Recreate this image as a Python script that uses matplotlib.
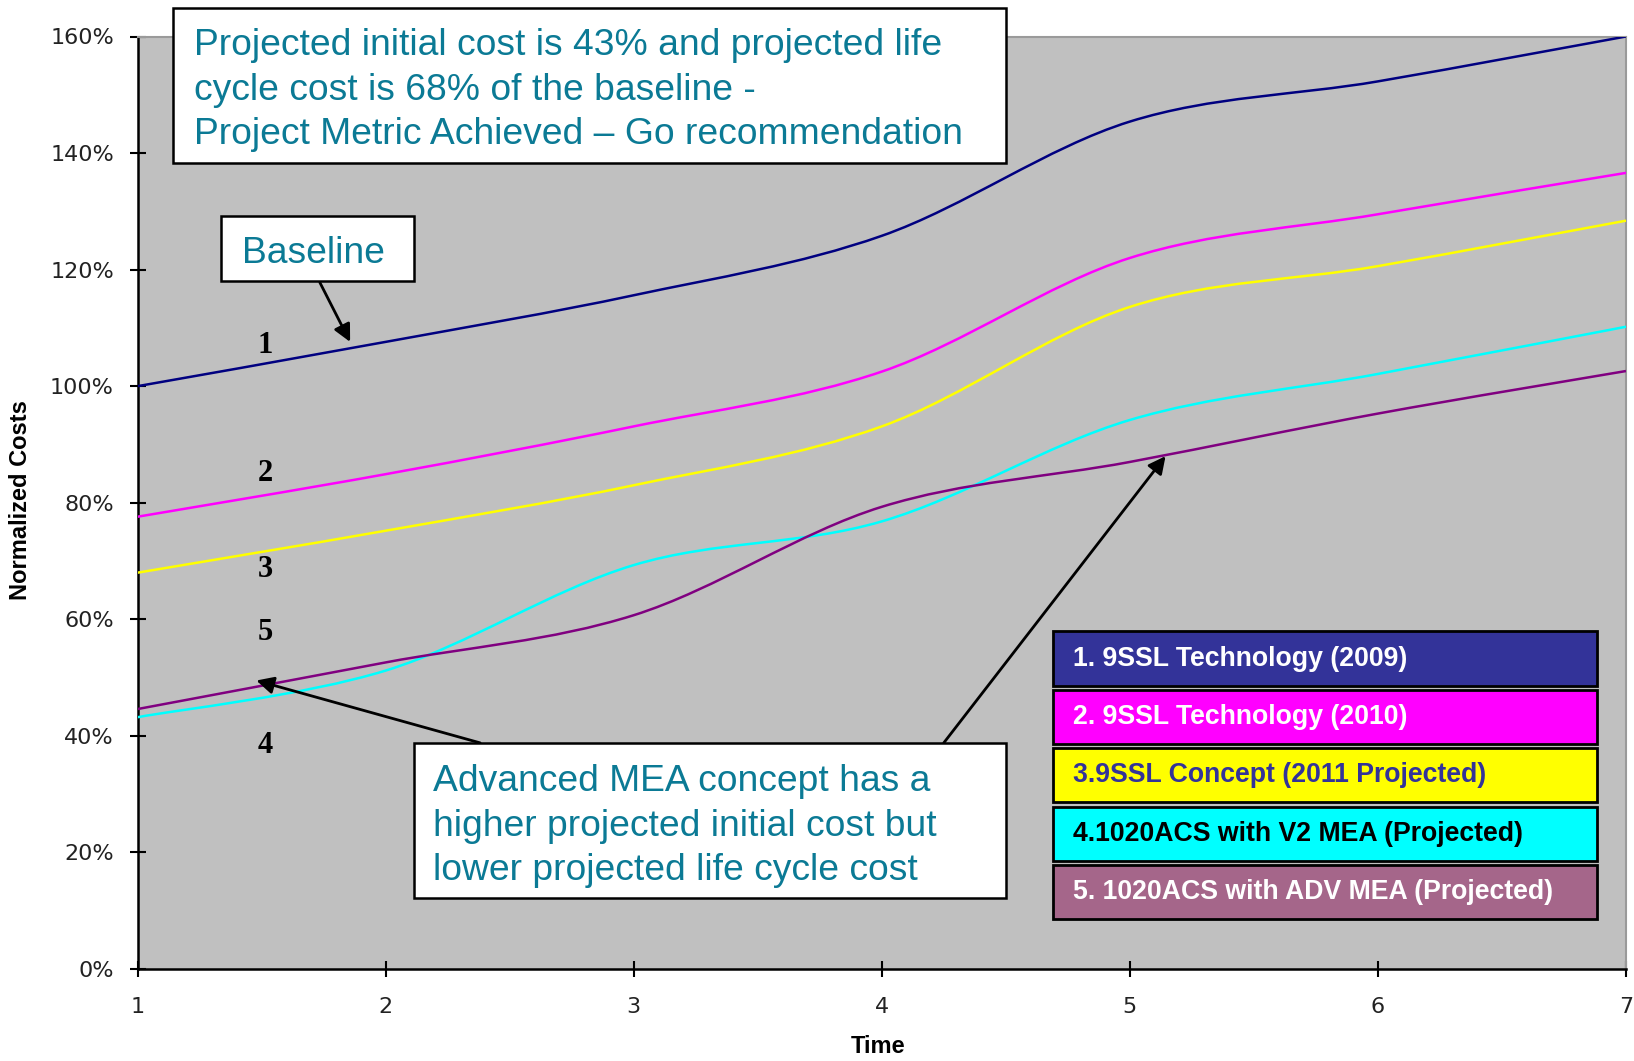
import matplotlib
matplotlib.use('Agg')
import matplotlib.pyplot as plt
from matplotlib.path import Path
from matplotlib.patches import PathPatch, Rectangle
from matplotlib.ticker import FuncFormatter

# Data (normalized cost, % of baseline)
time = [1, 2, 3, 4, 5, 6, 7]
tech_2009 = [100.0, 107.6, 115.6, 125.8, 145.4, 152.3, 160.0]
tech_2010 = [77.6, 84.9, 93.1, 102.5, 122.0, 129.5, 136.6]
concept_2011 = [68.0, 75.2, 83.0, 93.1, 113.6, 120.6, 128.4]
acs_v2_mea = [43.2, 51.2, 69.3, 76.8, 94.2, 102.1, 110.2]
acs_adv_mea = [44.6, 52.6, 60.7, 79.3, 87.0, 95.3, 102.6]

series = [tech_2009, tech_2010, concept_2011, acs_v2_mea, acs_adv_mea]
line_colors = ['#000080', '#FF00FF', '#FFFF00', '#00FFFF', '#800080']
legend_labels = ['1. 9SSL Technology (2009)', '2. 9SSL Technology (2010)',
                 '3.9SSL Concept (2011 Projected)', '4.1020ACS with V2 MEA (Projected)',
                 '5. 1020ACS with ADV MEA (Projected)']
legend_fill = ['#333399', '#FF00FF', '#FFFF00', '#00FFFF', '#A5668A']
legend_text = ['white', 'white', '#333399', 'black', 'white']

number_labels = ['1', '2', '3', '5', '4']
number_pos = [(1.516, 107.0), (1.516, 85.0), (1.516, 68.6), (1.516, 57.7), (1.516, 38.4)]

TEAL = '#0B7A95'
W, H = 1634, 1061


def smooth_path(xs, ys):
    """Excel-style smoothed line: cubic Bezier segments through the points."""
    n = len(xs)
    verts = [(xs[0], ys[0])]
    codes = [Path.MOVETO]
    for i in range(n - 1):
        p = max(i - 1, 0)
        q = min(i + 2, n - 1)
        c1 = (xs[i] + (xs[i + 1] - xs[p]) / 6, ys[i] + (ys[i + 1] - ys[p]) / 6)
        c2 = (xs[i + 1] - (xs[q] - xs[i]) / 6, ys[i + 1] - (ys[q] - ys[i]) / 6)
        verts += [c1, c2, (xs[i + 1], ys[i + 1])]
        codes += [Path.CURVE4] * 3
    return Path(verts, codes)


def fx(x):
    return x / W


def fy(y):
    return 1 - y / H


def fig_box(x0, y0, x1, y1, face='white', lw=1.8):
    fig.add_artist(Rectangle((fx(x0), fy(y1)), fx(x1) - fx(x0), fy(y0) - fy(y1),
                             transform=fig.transFigure, facecolor=face,
                             edgecolor='black', linewidth=lw, zorder=2))


fig = plt.figure(figsize=(W / 100, H / 100), dpi=100)
ax = fig.add_axes([fx(137.5), fy(969), fx(1626) - fx(137.5), fy(36.5) - fy(969)])
ax.set_facecolor('#C0C0C0')

for ys, c in zip(series, line_colors):
    ax.add_patch(PathPatch(smooth_path(time, ys), facecolor='none', edgecolor=c, lw=1.8, zorder=3))

ax.set_xlim(1, 7)
ax.set_ylim(0, 160)
ax.set_xticks(time)
ax.set_yticks(range(0, 161, 20))
ax.yaxis.set_major_formatter(FuncFormatter(lambda v, _: f'{int(v)}%'))
ax.tick_params(direction='inout', length=12, width=1.5, labelsize=16, labelcolor='#222222')
ax.tick_params(axis='y', pad=11)
ax.tick_params(axis='x', pad=14)
for s in ['left', 'bottom']:
    ax.spines[s].set_linewidth(1.8)
for s in ['top', 'right']:
    ax.spines[s].set_color('#9a9a9a')
    ax.spines[s].set_linewidth(1.5)

ax.set_xlabel('Time', fontsize=17, fontweight='bold', family='Liberation Sans')
ax.xaxis.set_label_coords(0.4975, -0.0836)
ax.xaxis.label.set_va('center')
ax.set_ylabel('Normalized Costs', fontsize=17, fontweight='bold', family='Liberation Sans')
ax.yaxis.set_label_coords(-0.0783, 0.503)
ax.yaxis.label.set_va('center')

for lab, (x, y) in zip(number_labels, number_pos):
    ax.text(x, y, lab, fontsize=22, fontweight='bold', family='Liberation Serif',
            ha='center', va='center', zorder=4)

arrow = dict(arrowstyle='-|>', color='black', lw=2, mutation_scale=26, shrinkA=0, shrinkB=0)
ax.annotate('', xy=(1.857, 107.6), xytext=(1.735, 117.8), arrowprops=arrow, zorder=5)
ax.annotate('', xy=(1.479, 49.5), xytext=(2.381, 38.8), arrowprops=arrow, zorder=5)
ax.annotate('', xy=(5.144, 88.0), xytext=(4.250, 38.8), arrowprops=arrow, zorder=5)

# Call-out boxes
fig_box(173, 8.3, 1005.5, 162.5)
top_lines = ['Projected initial cost is 43% and projected life',
             'cycle cost is 68% of the baseline -',
             'Project Metric Achieved \u2013 Go recommendation']
for line, base in zip(top_lines, [55, 99.5, 144]):
    fig.text(fx(194), fy(base), line, fontsize=26.8, color=TEAL, family='Liberation Sans',
             va='baseline', ha='left', zorder=3)

fig_box(221, 215.7, 413.7, 281.3)
fig.text(fx(241.7), fy(262.6), 'Baseline', fontsize=26.8, color=TEAL, family='Liberation Sans',
         va='baseline', ha='left', zorder=3)

fig_box(413.7, 743, 1005.5, 898)
bottom_lines = ['Advanced MEA concept has a', 'higher projected initial cost but',
                'lower projected life cycle cost']
for line, base in zip(bottom_lines, [791, 835.5, 879.5]):
    fig.text(fx(433.5), fy(base), line, fontsize=26.8, color=TEAL, family='Liberation Sans',
             va='baseline', ha='left', zorder=3)

# Legend-style colored boxes
legend_rows = [(631, 686), (690, 744), (748, 802), (807, 861), (865, 919)]
for (y0, y1), lab, face, tc in zip(legend_rows, legend_labels, legend_fill, legend_text):
    fig_box(1053, y0, 1597, y1, face=face, lw=2)
    fig.text(fx(1073), fy((y0 + y1) / 2), lab, fontsize=19.2, fontweight='bold', color=tc,
             family='Liberation Sans', va='center', ha='left', zorder=3)

fig.savefig('out.png', dpi=100)
